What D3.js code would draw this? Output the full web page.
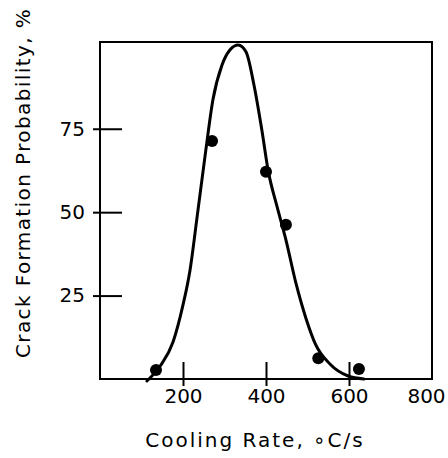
<!DOCTYPE html>
<html>
<head>
<meta charset="utf-8">
<script src="https://cdn.jsdelivr.net/npm/d3@7"></script>
<style>
  html, body { margin: 0; padding: 0; background: #fff; }
  svg { display: block; }
  text { font-family: "DejaVu Sans", sans-serif; fill: #000; }
</style>
</head>
<body>
<svg id="chart" width="448" height="458"></svg>
<script>
// Measured data points (cooling rate °C/s, crack probability %)
const pointRates = [135, 270, 400, 448, 526, 624];
const pointProbs = [2.7, 71.3, 62.1, 46.2, 6.2, 3.0];

// Hand-drawn trend curve
const curveRates = [113, 145, 176, 200, 217, 234, 255, 272, 294, 313, 333, 352, 371, 390, 405, 427, 448, 472, 496, 520, 554, 598, 636];
const curveProbs = [-0.6, 3.9, 11.1, 22.2, 32.7, 48.6, 68.6, 83.6, 94.1, 98.6, 100.1, 98.0, 88.1, 74.6, 62.6, 51.5, 41.7, 28.8, 18.3, 10.2, 4.5, 0.9, 0];

const xTicks = [200, 400, 600, 800];
const yTicks = [25, 50, 75];
const xTitle = "Cooling Rate, \u2218C/s";
const yTitle = "Crack Formation Probability, %";

const svg = d3.select("#chart");
const mLeft = 100, mRight = 432, mTop = 42, mBottom = 379;

const x = d3.scaleLinear().domain([0, 800]).range([mLeft, mRight]);
const y = d3.scaleLinear().domain([0, 101]).range([mBottom, mTop]);

// Frame
svg.append("rect")
  .attr("x", mLeft).attr("y", mTop)
  .attr("width", mRight - mLeft).attr("height", mBottom - mTop)
  .attr("fill", "none").attr("stroke", "#000").attr("stroke-width", 2);

// Y axis
const gy = svg.append("g")
  .attr("transform", `translate(${mLeft},0)`)
  .call(d3.axisLeft(y).tickValues(yTicks).tickSize(7).tickPadding(15));
gy.select(".domain").remove();
gy.selectAll(".tick line").attr("x1", 22).attr("x2", -7)
  .attr("stroke", "#000").attr("stroke-width", 2);
gy.selectAll(".tick text")
  .attr("x", -15)
  .style("font-size", "20px").style("font-family", "DejaVu Sans");

// X axis
const gx = svg.append("g")
  .attr("transform", `translate(0,${mBottom})`)
  .call(d3.axisBottom(x).tickValues(xTicks).tickSize(7));
gx.select(".domain").remove();
gx.selectAll(".tick line").attr("y1", d => d === 800 ? 0 : -17).attr("y2", d => d === 800 ? 0 : 7)
  .attr("stroke", "#000").attr("stroke-width", 2);
gx.selectAll(".tick text")
  .attr("y", 24).attr("dy", null)
  .attr("dx", d => d === 800 ? -6 : 0)
  .style("font-size", "20px").style("font-family", "DejaVu Sans");

// Curve
const line = d3.line()
  .x((d, i) => x(curveRates[i]))
  .y((d, i) => y(curveProbs[i]))
  .curve(d3.curveMonotoneX);
svg.append("path")
  .datum(curveRates)
  .attr("d", line)
  .attr("fill", "none").attr("stroke", "#000").attr("stroke-width", 3)
  .attr("stroke-linejoin", "round").attr("stroke-linecap", "round");

// Points
svg.selectAll("circle.pt")
  .data(pointRates)
  .join("circle")
  .attr("class", "pt")
  .attr("cx", d => x(d))
  .attr("cy", (d, i) => y(pointProbs[i]))
  .attr("r", 6)
  .attr("fill", "#000");

// Titles
svg.append("text")
  .attr("x", 255).attr("y", 447)
  .attr("text-anchor", "middle")
  .style("font-size", "20px").style("letter-spacing", "2px")
  .text(xTitle);

svg.append("text")
  .attr("transform", "translate(30,183) rotate(-90)")
  .attr("text-anchor", "middle")
  .style("font-size", "20px").style("letter-spacing", "1.4px")
  .text(yTitle);
</script>
</body>
</html>
